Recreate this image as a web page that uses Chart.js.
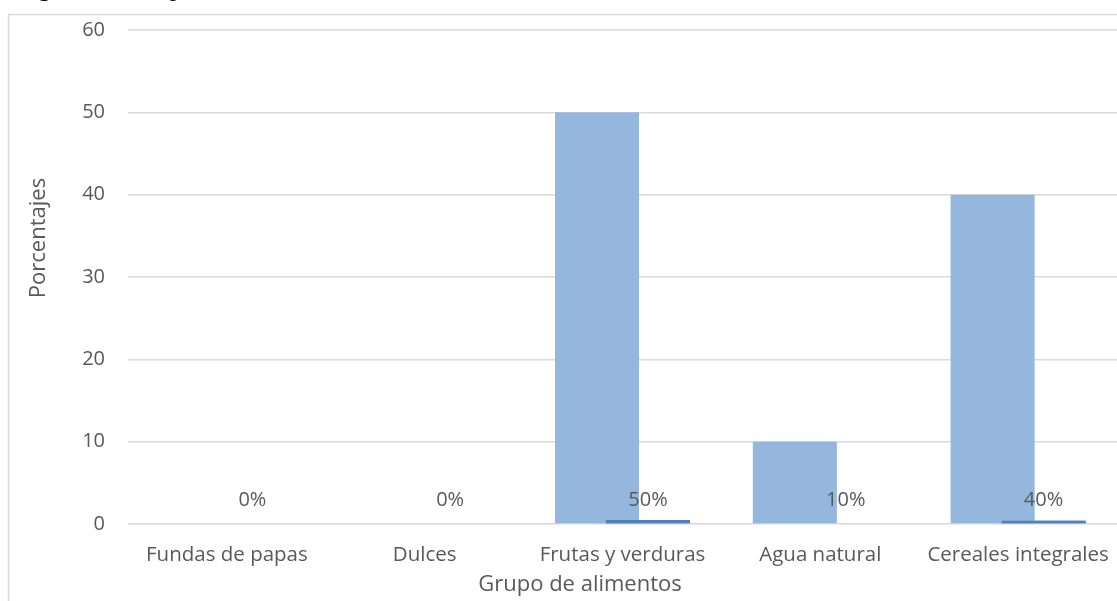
<!DOCTYPE html>
<html>
<head>
<meta charset="utf-8">
<script src="https://cdn.jsdelivr.net/npm/chart.js@4.4.0/dist/chart.umd.min.js"></script>
<style>
  html, body { margin: 0; padding: 0; background: #ffffff; }
  #wrap { width: 1117px; height: 601px; position: relative; }
</style>
</head>
<body>
<div id="wrap"><canvas id="chart" width="1117" height="601"></canvas></div>
<script>
// Food groups and the share of answers for each one
const categories = ['Fundas de papas', 'Dulces', 'Frutas y verduras', 'Agua natural', 'Cereales integrales'];
const porcentajes = [0, 0, 50, 10, 40];
const proporciones = [0, 0, 0.5, 0.1, 0.4];
const yTicks = [0, 10, 20, 30, 40, 50, 60];

const caption = 'Figura 10. Grupo de alimentos';
const yTitle = 'Porcentajes';
const xTitle = 'Grupo de alimentos';

const textColor = '#595959';
const gridColor = '#d9d9d9';
const fontFamily = '"Open Sans", "Noto Sans", sans-serif';

// Frame, caption, axis titles and percentage labels
const decorations = {
  id: 'decorations',
  beforeDraw(chart) {
    const ctx = chart.ctx;
    ctx.save();
    ctx.fillStyle = '#ffffff';
    ctx.fillRect(0, 0, chart.width, chart.height);
    // caption of the figure (mostly above the page edge)
    ctx.fillStyle = '#000000';
    ctx.font = '26px "Liberation Serif", "Times New Roman", serif';
    ctx.textBaseline = 'alphabetic';
    ctx.textAlign = 'left';
    ctx.fillText(caption, 16, -4);
    // chart frame
    ctx.strokeStyle = gridColor;
    ctx.lineWidth = 1.5;
    ctx.beginPath();
    ctx.moveTo(8.5, chart.height + 2);
    ctx.lineTo(8.5, 14.5);
    ctx.lineTo(chart.width + 2, 14.5);
    ctx.stroke();
    ctx.restore();
  },
  afterDatasetsDraw(chart) {
    // second series sits on top of the first where they overlap
    const meta = chart.getDatasetMeta(1);
    const ctx = chart.ctx;
    const area = chart.chartArea;
    ctx.save();
    ctx.beginPath();
    ctx.rect(area.left, area.top, area.right - area.left, area.bottom - area.top);
    ctx.clip();
    meta.controller.draw();
    ctx.restore();

    // percentage labels above the second series
    const base = chart.scales.y.getPixelForValue(0);
    ctx.save();
    ctx.fillStyle = textColor;
    ctx.font = '20px ' + fontFamily;
    ctx.textAlign = 'center';
    ctx.textBaseline = 'middle';
    meta.data.forEach((bar, i) => {
      const label = Math.round(proporciones[i] * 100) + '%';
      ctx.fillText(label, bar.x, Math.min(bar.y - 20, base - 24));
    });
    ctx.restore();
  },
  afterDraw(chart) {
    const ctx = chart.ctx;
    ctx.save();
    ctx.fillStyle = textColor;
    ctx.font = '22px ' + fontFamily;
    ctx.textAlign = 'center';
    ctx.textBaseline = 'middle';
    ctx.fillText(xTitle, 580, 585);
    ctx.translate(39, 238);
    ctx.rotate(-Math.PI / 2);
    ctx.fillText(yTitle, 0, 0);
    ctx.restore();
  }
};

new Chart(document.getElementById('chart'), {
  type: 'bar',
  data: {
    labels: categories,
    datasets: [
      {
        label: 'Porcentajes',
        data: porcentajes,
        backgroundColor: '#95b7de',
        categoryPercentage: 0.515,
        barPercentage: 1.65
      },
      {
        label: 'Proporción',
        data: proporciones,
        backgroundColor: '#4f81bd',
        categoryPercentage: 0.515,
        barPercentage: 1.65
      }
    ]
  },
  options: {
    responsive: false,
    animation: false,
    devicePixelRatio: 1,
    layout: { padding: { top: 30, left: 0, right: 0, bottom: 0 } },
    plugins: {
      legend: { display: false },
      tooltip: { enabled: false },
      title: { display: false }
    },
    scales: {
      x: {
        offset: true,
        grid: { display: false, drawTicks: false },
        border: { display: false },
        ticks: {
          color: textColor,
          font: { family: fontFamily, size: 20.5 },
          padding: 19,
          maxRotation: 0,
          autoSkip: false
        },
        afterFit(scale) {
          scale.height = 77;
          scale.paddingLeft = 0;
          scale.paddingRight = 0;
        }
      },
      y: {
        min: 0,
        max: 60,
        afterBuildTicks(scale) { scale.ticks = yTicks.map(v => ({ value: v })); },
        grid: { color: gridColor, lineWidth: 1.5, drawTicks: false },
        border: { display: false },
        ticks: {
          color: textColor,
          font: { family: fontFamily, size: 20 },
          padding: 23
        },
        afterFit(scale) {
          scale.width = 128;
          scale.paddingTop = 0;
          scale.paddingBottom = 0;
        }
      }
    }
  },
  plugins: [decorations]
});
</script>
</body>
</html>
